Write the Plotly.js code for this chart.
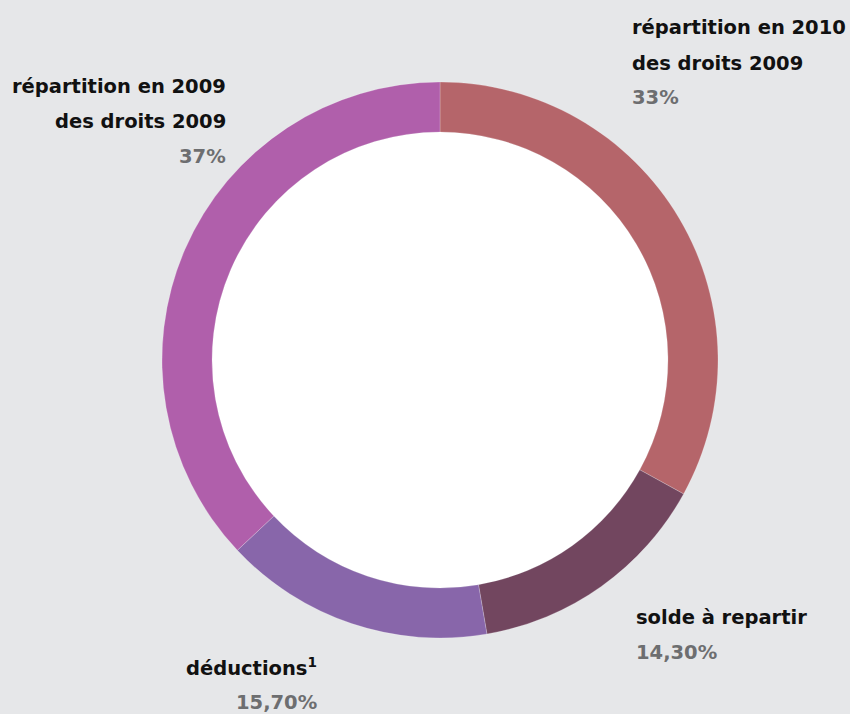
<!DOCTYPE html>
<html><head><meta charset="utf-8">
<script src="https://cdn.plot.ly/plotly-3.0.1.min.js"></script>
<style>html,body{margin:0;padding:0;background:#e6e7e9;}#chart{width:850px;height:714px;}</style>
</head><body><div id="chart"></div>
<script>
const categories = ["répartition en 2010<br>des droits 2009", "solde à repartir", "déductions<sup>1</sup>", "répartition en 2009<br>des droits 2009"];
const values = [33, 14.3, 15.7, 37];
const pctLabels = ["33%", "14,30%", "15,70%", "37%"];
const labelLines = [["répartition en 2010", "des droits 2009"], ["solde à repartir"], ["déductions<sup>1</sup>"], ["répartition en 2009", "des droits 2009"]];
const colors = ["#b5656a", "#72465f", "#8866aa", "#b05fab"];

const W = 850, H = 714;
const anchors = [
  {x: 630, y: 28, xa: "left"},
  {x: 634, y: 617, xa: "left"},
  {x: 319, y: 667, xa: "right"},
  {x: 228, y: 86, xa: "right"}
];
const lineGap = 35;
const annotations = [];
anchors.forEach((a, i) => {
  const lines = labelLines[i].concat([pctLabels[i]]);
  lines.forEach((t, j) => {
    const isPct = j === lines.length - 1;
    annotations.push({
      xref: "paper", yref: "paper",
      x: a.x / W, y: 1 - (a.y + j * lineGap) / H,
      xanchor: a.xa, yanchor: "middle", align: a.xa,
      text: "<b>" + t + "</b>", showarrow: false,
      font: {family: "'DejaVu Sans', sans-serif", size: 19.5, color: isPct ? "#6d6e70" : "#111111"}
    });
  });
});

const cx = 440, cy = 360, R = 278;
const data = [{
  type: "pie",
  values: values,
  labels: categories,
  sort: false,
  direction: "clockwise",
  rotation: 0,
  hole: 0.82,
  textinfo: "none",
  hoverinfo: "label+percent",
  marker: {colors: colors, line: {color: "rgba(255,255,255,0.35)", width: 0.6}},
  domain: {x: [(cx - R) / W, (cx + R) / W], y: [1 - (cy + R) / H, 1 - (cy - R) / H]},
  showlegend: false
}];
const layout = {
  width: W, height: H,
  margin: {l: 0, r: 0, t: 0, b: 0},
  paper_bgcolor: "#e6e7e9",
  plot_bgcolor: "#e6e7e9",
  annotations: annotations,
  shapes: [{type: "circle", xref: "paper", yref: "paper", layer: "below",
    x0: (cx - R * 0.82) / W, x1: (cx + R * 0.82) / W, y0: 1 - (cy + R * 0.82) / H, y1: 1 - (cy - R * 0.82) / H,
    fillcolor: "#ffffff", line: {width: 0}}]
};
Plotly.newPlot("chart", data, layout, {displayModeBar: false});
</script></body></html>
